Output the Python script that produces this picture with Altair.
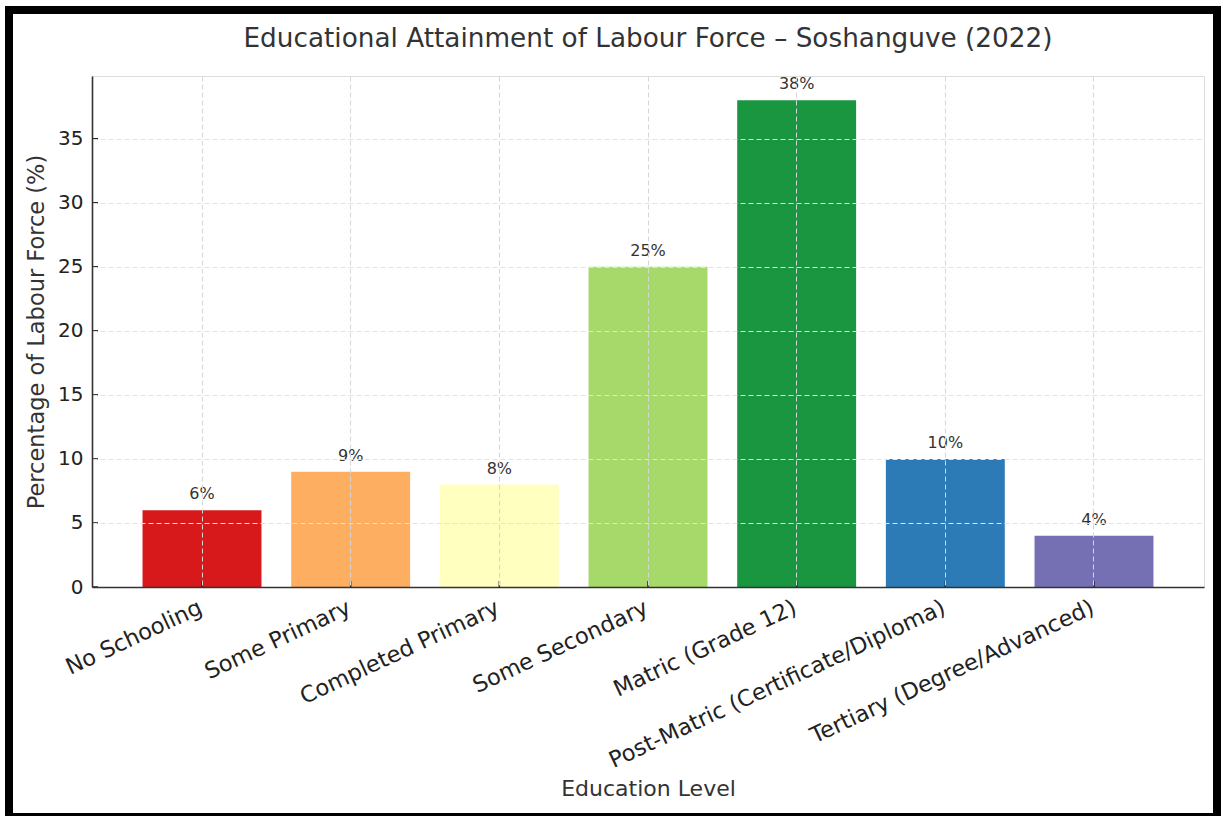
import altair as alt
import pandas as pd

title_text = ["Educational Attainment of Labour Force \u2013 Soshanguve (2022)"]
categories = [
    "No Schooling",
    "Some Primary",
    "Completed Primary",
    "Some Secondary",
    "Matric (Grade 12)",
    "Post-Matric (Certificate/Diploma)",
    "Tertiary (Degree/Advanced)",
]
values = [6, 9, 8, 25, 38, 10, 4]
colors = ["#d7191c", "#fdae61", "#ffffbf", "#a6d96a", "#1a9641", "#2c7bb6", "#7570b3"]
y_ticks = [0, 5, 10, 15, 20, 25, 30, 35]

df = pd.DataFrame({"level": categories, "pct": values,
                   "label": [f"{v}%" for v in values]})
tick_df = pd.DataFrame({"t": y_ticks})
title_df = pd.DataFrame({"title": title_text})

W, H = 1112, 511
FONT = "DejaVu Sans"

xscale = alt.Scale(domain=categories, paddingInner=0.2, paddingOuter=0.34)
yscale = alt.Scale(domain=[0, 39.9], nice=False, zero=True)

xaxis = alt.Axis(
    title="Education Level", labelAngle=-25, labelAlign="right", labelBaseline="top",
    labelOffset=-6, labelPadding=9, labelFontSize=22.5, labelColor="#222", labelFont=FONT,
    labelLimit=0,
    titleFontSize=22, titleFont=FONT, titleColor="#333", titleFontWeight="normal",
    titleY=201, titleBaseline="middle",
    grid=True, gridDash=[5, 3], gridColor="#d6d6d6", gridWidth=1,
    domainColor="#333", domainWidth=1.6, ticks=False, bandPosition=0.5, zindex=1,
)
yaxis = alt.Axis(
    title="Percentage of Labour Force (%)", values=y_ticks, labelFontSize=20,
    labelColor="#222", labelFont=FONT, labelPadding=9,
    titleFontSize=22.5, titleFont=FONT, titleColor="#333", titleFontWeight="normal",
    titleX=-56, titleBaseline="middle",
    grid=True, gridDash=[5, 3], gridColor="#e2e2e2", gridWidth=1,
    domainColor="#333", domainWidth=1.6, ticks=False, zindex=1,
)

bars = alt.Chart(df).mark_bar().encode(
    x=alt.X("level:N", scale=xscale, axis=xaxis, sort=categories),
    y=alt.Y("pct:Q", scale=yscale, axis=yaxis),
    color=alt.Color("level:N", scale=alt.Scale(domain=categories, range=colors), legend=None),
)

text = alt.Chart(df).mark_text(dy=-16, fontSize=16, color="#333", font=FONT).encode(
    x=alt.X("level:N", scale=xscale, sort=categories),
    y=alt.Y("pct:Q", scale=yscale),
    text="label:N",
)

xticks = alt.Chart(df).mark_rule(color="#222", strokeWidth=1.5).encode(
    x=alt.X("level:N", scale=xscale, sort=categories),
    y=alt.value(H),
    y2=alt.value(H - 6),
)

yticks = alt.Chart(tick_df).mark_rule(color="#222", strokeWidth=1.5).encode(
    y=alt.Y("t:Q", scale=yscale),
    x=alt.value(0),
    x2=alt.value(6),
)

title = alt.Chart(title_df).mark_text(
    fontSize=26.3, font=FONT, color="#333", align="center", baseline="alphabetic"
).encode(
    x=alt.value(W / 2), y=alt.value(-29), text="title:N"
)

frame = alt.Chart(pd.DataFrame({"a": [0]})).mark_rect(
    fillOpacity=0, stroke="black", strokeWidth=8
).encode(
    x=alt.value(-83), x2=alt.value(1125), y=alt.value(-66), y2=alt.value(741)
)

chart = alt.layer(bars, xticks, yticks, text, title, frame).properties(
    width=W, height=H,
    autosize=alt.AutoSizeParams(type="none"),
    padding={"left": 92, "top": 76, "right": 17, "bottom": 229},
).configure_view(stroke=None).configure(background="white")

chart.save("out.html", embed_options={"renderer": "svg", "actions": False})
